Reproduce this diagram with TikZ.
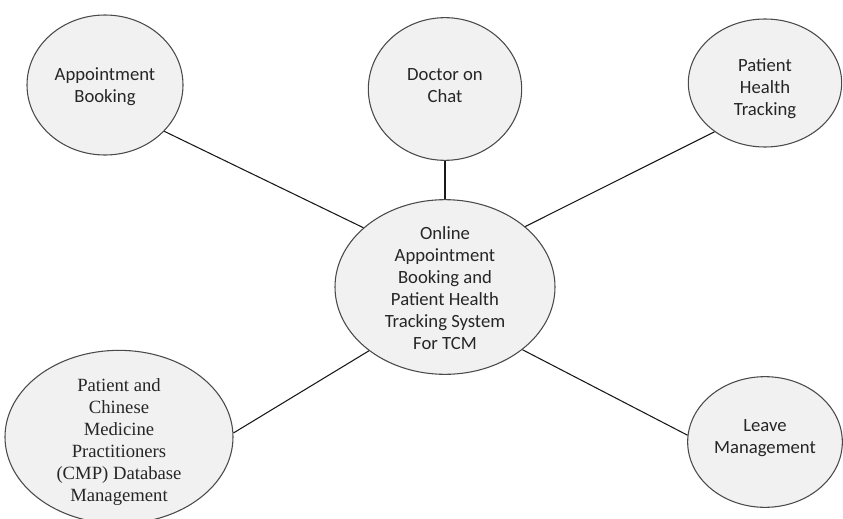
\documentclass[tikz,border=0pt]{standalone}
\usepackage{fontspec}
\setmainfont{Carlito}
\newfontfamily\serifface{Liberation Serif}
\usetikzlibrary{shapes.geometric}

\definecolor{bubblefill}{HTML}{F1F1F1}
\definecolor{bubbleline}{HTML}{4A4A4A}

\tikzset{
  bubble/.style={ellipse, draw=bubbleline, fill=bubblefill, line width=0.8pt, inner sep=0pt},
  label text/.style={align=center, inner sep=0pt, font=\fontsize{14}{16.5}\selectfont, text=black!85},
  serif text/.style={label text, font=\fontsize{14}{16.5}\selectfont\serifface},
  link/.style={draw=black!90, line width=0.8pt}
}

\begin{document}
\begin{tikzpicture}[x=0.75pt, y=-0.75pt]
  \useasboundingbox (0,0) rectangle (843,518);

  % bubbles (pixel grid, y pointing down)
  \node[bubble, minimum width=117pt, minimum height=105pt] (ab)  at (105,85)  {};
  \node[bubble, minimum width=115pt, minimum height=107pt] (doc) at (445,89)  {};
  \node[bubble, minimum width=115pt, minimum height=96pt]  (pht) at (765,83)  {};
  \node[bubble, minimum width=165pt, minimum height=131pt] (sys) at (445,287) {};
  \node[bubble, minimum width=171pt, minimum height=130pt] (cmp) at (119,437) {};
  \node[bubble, minimum width=116pt, minimum height=98pt]  (lm)  at (765,442) {};

  % connectors from the hub to each feature
  \draw[link] (ab.-38.7)  -- (sys.144.5);
  \draw[link] (doc.south) -- (sys.north);
  \draw[link] (pht.-136.6) -- (sys.37);
  \draw[link] (cmp.2)     -- (sys.220);
  \draw[link] (lm.175)    -- (sys.-39);

  % labels
  \node[label text] (ab-t)  at (105,87)  {Appointment\\Booking};
  \node[label text] (doc-t) at (445,86)  {Doctor on\\Chat};
  \node[label text] (pht-t) at (765,89)  {Patient\\Health\\Tracking};
  \node[label text] (sys-t) at (445,288) {Online\\Appointment\\Booking and\\Patient Health\\Tracking System\\For TCM};
  \node[serif text] (cmp-t) at (119,442) {Patient and\\Chinese\\Medicine\\Practitioners\\(CMP) Database\\Management};
  \node[label text] (lm-t)  at (765,438) {Leave\\Management};
\end{tikzpicture}
\end{document}
